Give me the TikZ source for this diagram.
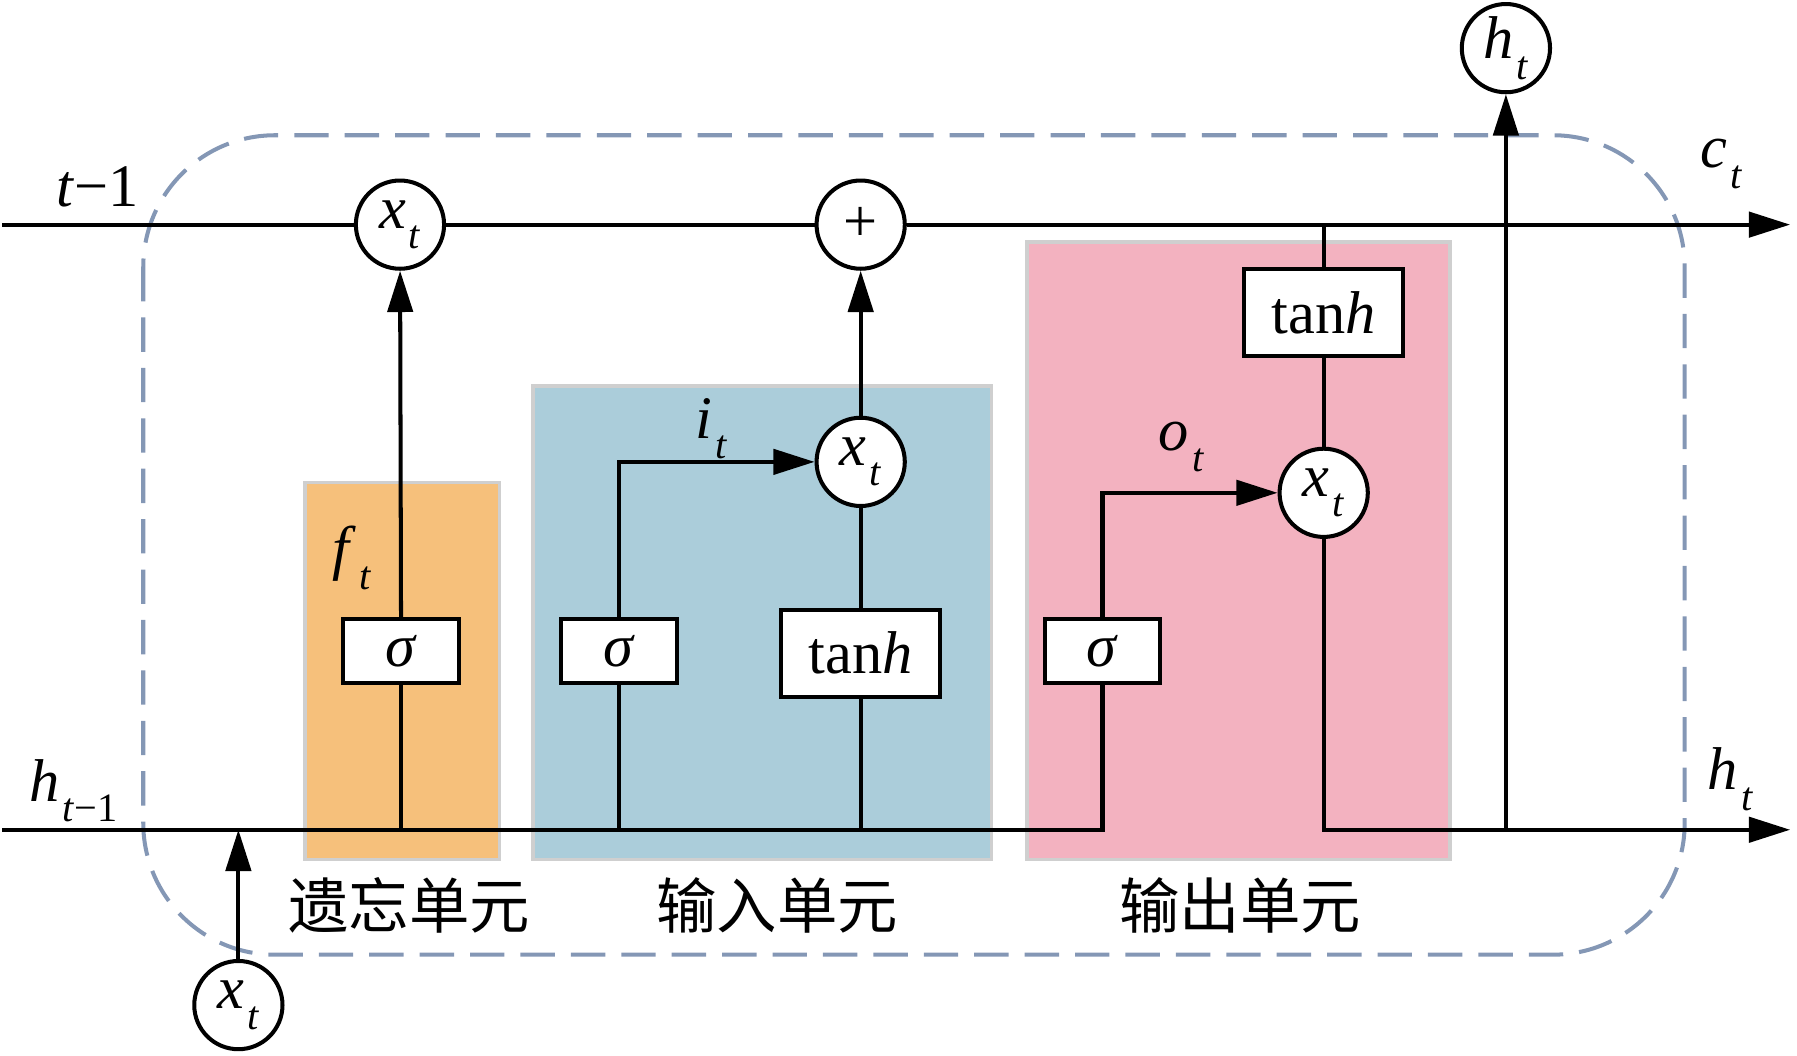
\documentclass[tikz,border=0pt]{standalone}
\usepackage{fontspec}
\setmainfont{Liberation Serif}
\newfontfamily\cjk{Noto Sans CJK SC}
\usetikzlibrary{arrows.meta}
\definecolor{forgetc}{HTML}{F6C07B}
\definecolor{inputc}{HTML}{ABCDDA}
\definecolor{outputc}{HTML}{F3B2C0}
\definecolor{panelb}{HTML}{CFCFCF}
\definecolor{dashc}{HTML}{8497B5}
\newcommand\sbs[2]{\textit{#1}\kern0.05em\raisebox{-0.34em}{\fontsize{20}{21}\selectfont #2}}
\begin{document}
\begin{tikzpicture}[x=0.02cm,y=-0.02cm,
  every node/.style={font=\fontsize{30}{32}\selectfont},
  line/.style={line width=2pt},
  arr/.style={line width=2pt,-{Triangle[length=0.72cm,width=0.44cm]}},
  op/.style={circle,draw,line width=2pt,fill=white,minimum size=1.54cm,inner sep=0pt},
  gatebox/.style={rectangle,draw,line width=2pt,fill=white,minimum width=2.02cm,minimum height=1.12cm,inner sep=0pt},
  tanbox/.style={rectangle,draw,line width=2pt,fill=white,minimum width=2.78cm,minimum height=1.52cm,inner sep=0pt},
  panel/.style={draw=panelb,line width=1.8pt},
  dashbox/.style={draw=dashc,line width=2pt,dash pattern=on 0.6cm off 0.28cm,rounded corners=2.3cm},
  cjklab/.style={font=\cjk\fontsize{30}{32}\selectfont}]
\useasboundingbox (0,0) rectangle (1568,921);
% background panels
\draw[dashbox] (125,118) rectangle (1470,833);
\draw[panel,fill=forgetc] (266,421) rectangle (436,750);
\draw[panel,fill=inputc] (465,337) rectangle (865,750);
\draw[panel,fill=outputc] (896,211) rectangle (1265,750);
% nodes
\node[op] (mulF) at (349,196) {\sbs{x}{\textit{t}}};
\node[op] (plus) at (751,196) {+};
\node[op] (htop) at (1314,42) {\sbs{h}{\textit{t}}};
\node[op] (mulI) at (751,403) {\sbs{x}{\textit{t}}};
\node[op] (mulO) at (1155,430) {\sbs{x}{\textit{t}}};
\node[op] (xin) at (208,877) {\sbs{x}{\textit{t}}};
\node[gatebox] (sigF) at (350,568) {\textit{σ}};
\node[gatebox] (sigI) at (540,568) {\textit{σ}};
\node[gatebox] (sigO) at (962,568) {\textit{σ}};
\node[tanbox] (tanhI) at (751,570) {tan\textit{h}};
\node[tanbox] (tanhO) at (1155,273) {tan\textit{h}};
% coordinates on the two lines
\coordinate (cL) at (2,196);
\coordinate (cR) at (1562,196);
\coordinate (cj) at (1155,196);
\coordinate (hL) at (2,724);
\coordinate (hR) at (1562,724);
\coordinate (fj) at (350,724);
\coordinate (ij) at (540,724);
\coordinate (tj) at (751,724);
\coordinate (hj) at (1314,724);
\coordinate (xj) at (208,724);
% cell state line
\draw[line] (cL) -- (mulF);
\draw[line] (mulF) -- (plus);
\draw[arr] (plus) -- (cR);
\draw[line] (cj) -- (tanhO);
\draw[line] (tanhO) -- (mulO);
% hidden line
\draw[line] (hL) -| (sigO.south);
\draw[arr] (sigO.north) |- (mulO.west);
\draw[arr] (mulO.south) |- (hR);
\draw[arr] (hj) -- (htop);
\draw[arr] (xin) -- (xj);
% forget gate
\draw[line] (fj) -- (sigF);
\draw[arr] (sigF) -- (mulF);
% input gate
\draw[line] (ij) -- (sigI);
\draw[arr] (sigI.north) |- (mulI.west);
\draw[line] (tj) -- (tanhI);
\draw[line] (tanhI) -- (mulI);
\draw[arr] (mulI) -- (plus);
% labels
\node (lt1) at (85,163) {\textit{t}−1};
\node (lht1) at (64,690) {\sbs{h}{\textit{t}−1}};
\node (lct) at (1502,143) {\sbs{c}{\textit{t}}};
\node (lht) at (1510,680) {\sbs{h}{\textit{t}}};
\node (lft) at (307,487) {\sbs{f}{\textit{t}}};
\node (lit) at (621,374) {\sbs{i}{\textit{t}}};
\node (lot) at (1031,390) {\sbs{o}{\textit{t}}};
\node[cjklab] (gf) at (357,790) {遗忘单元};
\node[cjklab] (gi) at (678,790) {输入单元};
\node[cjklab] (go) at (1082,790) {输出单元};
\end{tikzpicture}
\end{document}
